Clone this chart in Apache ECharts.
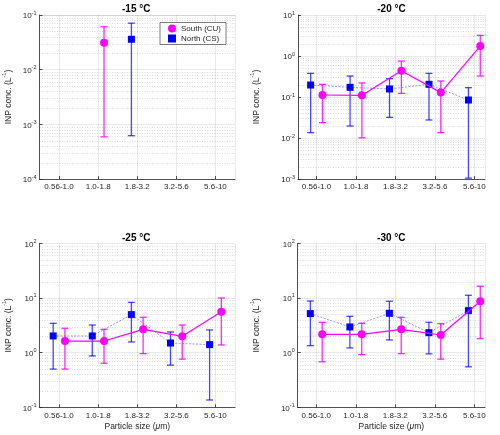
<!DOCTYPE html>
<html><head><meta charset="utf-8">
<script src="https://cdn.jsdelivr.net/npm/echarts@6/dist/echarts.min.js"></script>
<style>html,body{margin:0;padding:0;background:#fff}#c{width:500px;height:435px}</style>
</head><body><div id="c"></div>
<script>
// ---------- data ----------
const categories = ['0.56-1.0', '1.0-1.8', '1.8-3.2', '3.2-5.6', '5.6-10'];
const titles = ['-15 °C', '-20 °C', '-25 °C', '-30 °C'];
const seriesNames = ['South (CU)', 'North (CS)'];

// -15 °C
const south15    = [null, 0.031, null, null, null];
const south15Lo  = [null, 5.9e-4, null, null, null];
const south15Hi  = [null, 0.061, null, null, null];
const north15    = [null, null, 0.036, null, null];
const north15Lo  = [null, null, 6.2e-4, null, null];
const north15Hi  = [null, null, 0.071, null, null];

// -20 °C
const south20    = [0.112, 0.110, 0.438, 0.128, 1.75];
const south20Lo  = [0.0237, 0.0101, 0.123, 0.0135, 0.325];
const south20Hi  = [0.204, 0.22, 0.755, 0.246, 3.19];
const north20    = [0.196, 0.172, 0.157, 0.204, 0.0845];
const north20Lo  = [0.0135, 0.0196, 0.0319, 0.0275, 0.00105];
const north20Hi  = [0.377, 0.325, 0.28, 0.377, 0.169];

// -25 °C
const south25    = [1.63, 1.63, 2.67, 1.99, 5.62];
const south25Lo  = [0.50, 0.64, 0.96, 0.76, 1.38];
const south25Hi  = [2.79, 2.67, 4.43, 3.2, 10.0];
const north25    = [2.02, 2.02, 4.96, 1.50, 1.40];
const north25Lo  = [0.50, 0.87, 1.57, 0.59, 0.136];
const north25Hi  = [3.44, 3.2, 8.3, 2.39, 2.6];

// -30 °C
const south30    = [2.16, 2.16, 2.67, 2.10, 8.69];
const south30Lo  = [0.68, 0.92, 0.96, 0.76, 1.80];
const south30Hi  = [3.59, 3.44, 4.43, 3.39, 16.4];
const north30    = [5.17, 2.95, 5.24, 2.32, 5.87];
const north30Lo  = [1.34, 1.22, 1.71, 0.95, 0.55];
const north30Hi  = [8.8, 4.62, 8.7, 3.59, 11.2];

const yRanges = [[1e-4, 1e-1], [1e-3, 1e1], [1e-1, 1e2], [1e-1, 1e2]];

// ---------- layout / style ----------
const FONT = 'Liberation Sans, Arial, Helvetica, sans-serif';
const AX = '#262626';
const GRIDC = 'rgba(0,0,0,0.11)';
const MINORC = 'rgba(0,0,0,0.14)';
const PINK = '#ff00ff', BLUE = '#0000ff';
const OFF = 0.15;

const panels = [
  {left: 37.5, top: 15, width: 197.5, height: 164, xr: [0.5, 5.5], nameX: 11,
   s: [south15, south15Lo, south15Hi], n: [north15, north15Lo, north15Hi], xname: false},
  {left: 298, top: 15, width: 187, height: 164, xr: [0.53, 5.27], nameX: 261,
   s: [south20, south20Lo, south20Hi], n: [north20, north20Lo, north20Hi], xname: false},
  {left: 37.5, top: 243.3, width: 197.5, height: 164, xr: [0.5, 5.5], nameX: 11,
   s: [south25, south25Lo, south25Hi], n: [north25, north25Lo, north25Hi], xname: true},
  {left: 297.7, top: 243.3, width: 187.3, height: 164, xr: [0.53, 5.27], nameX: 261,
   s: [south30, south30Lo, south30Hi], n: [north30, north30Lo, north30Hi], xname: true}
];

function pts(vals, off) {
  const out = [];
  vals.forEach((v, i) => { if (v != null) out.push([i + 1 + off, v]); });
  return out;
}
function errs(lo, hi, off) {
  const out = [];
  lo.forEach((l, i) => { if (l != null) out.push([i + 1 + off, l, hi[i]]); });
  return out;
}
function errRender(color) {
  return function (params, api) {
    const x = api.value(0), lo = api.value(1), hi = api.value(2);
    const a = api.coord([x, lo]), b = api.coord([x, hi]);
    const w = 3.5;
    const st = {stroke: color, lineWidth: 1.3};
    return {type: 'group', children: [
      {type: 'line', shape: {x1: a[0], y1: a[1], x2: b[0], y2: b[1]}, style: st},
      {type: 'line', shape: {x1: a[0] - w, y1: a[1], x2: a[0] + w, y2: a[1]}, style: st},
      {type: 'line', shape: {x1: b[0] - w, y1: b[1], x2: b[0] + w, y2: b[1]}, style: st}
    ]};
  };
}
function minorVals(r) {
  const out = [];
  const e0 = Math.round(Math.log10(r[0])), e1 = Math.round(Math.log10(r[1]));
  for (let e = e0; e < e1; e++) for (let k = 2; k <= 9; k++) out.push(k * Math.pow(10, e));
  return out;
}
// one group per panel holding all the minor (2..9) dotted gridlines
function minorRender(xr, vals) {
  return function (params, api) {
    const children = vals.map(v => {
      const a = api.coord([xr[0], v]), b = api.coord([xr[1], v]);
      const y = Math.round(a[1]) + 0.5;
      return {type: 'line', shape: {x1: a[0], y1: y, x2: b[0], y2: y},
        style: {stroke: MINORC, lineWidth: 1, lineDash: [1, 1.5]}};
    });
    return {type: 'group', children};
  };
}

const grid = [], xAxis = [], yAxis = [], series = [], minorSeries = [], graphic = [];
panels.forEach((p, i) => {
  grid.push({left: p.left, top: p.top, width: p.width, height: p.height, show: false});
  xAxis.push({
    type: 'value', gridIndex: i, min: p.xr[0], max: p.xr[1], splitNumber: 5,
    axisLine: {show: true, onZero: false, lineStyle: {color: AX, width: 0.8}},
    axisTick: {show: true, inside: true, length: 3, lineStyle: {color: AX, width: 0.8}},
    axisLabel: {color: AX, fontSize: 8, fontFamily: FONT, margin: 4,
      showMinLabel: false, showMaxLabel: false,
      formatter: v => (Math.abs(v - Math.round(v)) < 1e-6 && v >= 1 && v <= 5) ? categories[Math.round(v) - 1] : ''},
    splitLine: {show: true, showMinLine: false, showMaxLine: true, lineStyle: {color: GRIDC, width: 0.8}},
    name: p.xname ? '{n|Particle size (}{i|μ}{n|m)}' : '',
    nameLocation: 'middle', nameGap: 15,
    nameTextStyle: {rich: {
      n: {fontSize: 8.5, fontFamily: FONT, color: AX},
      i: {fontSize: 8.5, fontFamily: FONT, color: AX, fontStyle: 'italic'}
    }}
  });
  yAxis.push({
    type: 'log', logBase: 10, gridIndex: i, min: yRanges[i][0], max: yRanges[i][1],
    axisLine: {show: true, lineStyle: {color: AX, width: 0.8}},
    axisTick: {show: true, inside: true, length: 3, lineStyle: {color: AX, width: 0.8}},
    axisLabel: {margin: 3, formatter: v => '{b|10}{e|' + Math.round(Math.log10(v)) + '}',
      rich: {
        b: {fontSize: 8, fontFamily: FONT, color: AX, lineHeight: 10, verticalAlign: 'bottom'},
        e: {fontSize: 5.5, fontFamily: FONT, color: AX, lineHeight: 6, verticalAlign: 'top'}
      }},
    splitLine: {show: true, showMinLine: false, lineStyle: {color: GRIDC, width: 0.8}},
    name: '{n|INP conc. (L}{e|-1}{n|)}', nameLocation: 'middle', nameRotate: 90,
    nameGap: p.left - p.nameX,
    nameTextStyle: {rich: {
      n: {fontSize: 8.5, fontFamily: FONT, color: AX, lineHeight: 12, verticalAlign: 'bottom'},
      e: {fontSize: 5.5, fontFamily: FONT, color: AX, lineHeight: 6, verticalAlign: 'top'}
    }}
  });
  minorSeries.push({type: 'custom', xAxisIndex: i, yAxisIndex: i, silent: true, z: 1,
    data: [[p.xr[0], yRanges[i][0]]], encode: {x: 0, y: 1},
    renderItem: minorRender(p.xr, minorVals(yRanges[i]))});
  // north
  series.push({type: 'custom', name: seriesNames[1], xAxisIndex: i, yAxisIndex: i, z: 3,
    data: errs(p.n[1], p.n[2], -OFF), encode: {x: 0, y: [1, 2]},
    renderItem: errRender('rgba(0,0,255,0.72)'), itemStyle: {color: BLUE}, silent: true});
  series.push({type: 'line', name: seriesNames[1], xAxisIndex: i, yAxisIndex: i, z: 4,
    data: pts(p.n[0], -OFF), symbol: 'rect', symbolSize: 7, showAllSymbol: true,
    itemStyle: {color: BLUE},
    lineStyle: {color: 'rgba(70,70,255,0.55)', width: 1, type: [2, 1.5]}});
  // south
  series.push({type: 'custom', name: seriesNames[0], xAxisIndex: i, yAxisIndex: i, z: 5,
    data: errs(p.s[1], p.s[2], OFF), encode: {x: 0, y: [1, 2]},
    renderItem: errRender('rgba(255,0,255,0.85)'), itemStyle: {color: PINK}, silent: true});
  series.push({type: 'line', name: seriesNames[0], xAxisIndex: i, yAxisIndex: i, z: 6,
    data: pts(p.s[0], OFF), symbol: 'circle', symbolSize: 8, showAllSymbol: true,
    itemStyle: {color: PINK},
    lineStyle: {color: PINK, width: 1.2}});
  graphic.push({type: 'text', x: p.left + p.width / 2, y: p.top - 5.5,
    style: {text: titles[i], align: 'center', verticalAlign: 'middle',
      fontSize: 10, fontWeight: 'bold', fontFamily: FONT, fill: '#000'}});
});

const chart = echarts.init(document.getElementById('c'), null, {renderer: 'canvas'});
chart.setOption({
  animation: false,
  backgroundColor: '#fff',
  grid, xAxis, yAxis, series: series.concat(minorSeries), graphic,
  legend: {
    data: [{name: seriesNames[0], icon: 'circle'}, {name: seriesNames[1], icon: 'rect'}],
    orient: 'vertical', left: 160, top: 22.5, itemWidth: 8, itemHeight: 8, itemGap: 2,
    padding: [2, 5, 2, 8], backgroundColor: '#fff', borderColor: AX, borderWidth: 0.6,
    textStyle: {fontSize: 8, fontFamily: FONT, color: AX}, selectedMode: false
  }
});
</script>
</body></html>
